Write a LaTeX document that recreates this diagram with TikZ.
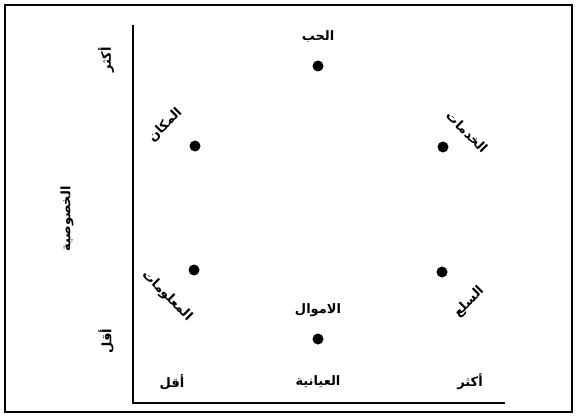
\documentclass[tikz,border=0pt]{standalone}
\usepackage{fontspec}
\TeXXeTstate=1
\newfontfamily\arabicfont[Script=Arabic]{DejaVu Sans}
\begin{document}
\begin{tikzpicture}[x=1pt,y=-1pt,
  lbl/.style={font=\arabicfont\bfseries\fontsize{13}{15}\selectfont, inner sep=1pt},
  dot/.style={circle, fill=black, inner sep=0pt, minimum size=11pt}]
\useasboundingbox (0,0) rectangle (578,417);
\draw[line width=1.5pt] (5,5) rectangle (572,412);
\coordinate (top) at (133,25);
\coordinate (origin) at (133,403);
\coordinate (right) at (505,403);
\draw[line width=2.5pt] (top) -- (origin) -- (right);
% dots
\node[dot] (love) at (318,66) {};
\node[dot] (place) at (195,146) {};
\node[dot] (services) at (443,147) {};
\node[dot] (info) at (194,270) {};
\node[dot] (goods) at (442,272) {};
\node[dot] (money) at (318,339) {};
% dot labels
\node[lbl] (tlove) at (318,37) {\beginR الحب\endR};
\node[lbl] (tmoney) at (318,310) {\beginR الاموال\endR};
\node[lbl, rotate=45] (tplace) at (165,125) {\beginR المكان\endR};
\node[lbl, rotate=-45] (tservices) at (467,132) {\beginR الخدمات\endR};
\node[lbl, rotate=-45] (tinfo) at (167,296) {\beginR المعلومات\endR};
\node[lbl, rotate=45] (tgoods) at (469,302) {\beginR السلع\endR};
% x axis labels
\node[lbl] (xless) at (172,382) {\beginR أقل\endR};
\node[lbl] (xtitle) at (318,382) {\beginR العيانية\endR};
\node[lbl] (xmore) at (470,382) {\beginR أكثر\endR};
% y axis labels
\node[lbl, rotate=90] (ymore) at (106,60) {\beginR أكثر\endR};
\node[lbl, rotate=90] (ytitle) at (67,219) {\beginR الخصوصية\endR};
\node[lbl, rotate=90] (yless) at (106,341) {\beginR أقل\endR};
\end{tikzpicture}
\end{document}
